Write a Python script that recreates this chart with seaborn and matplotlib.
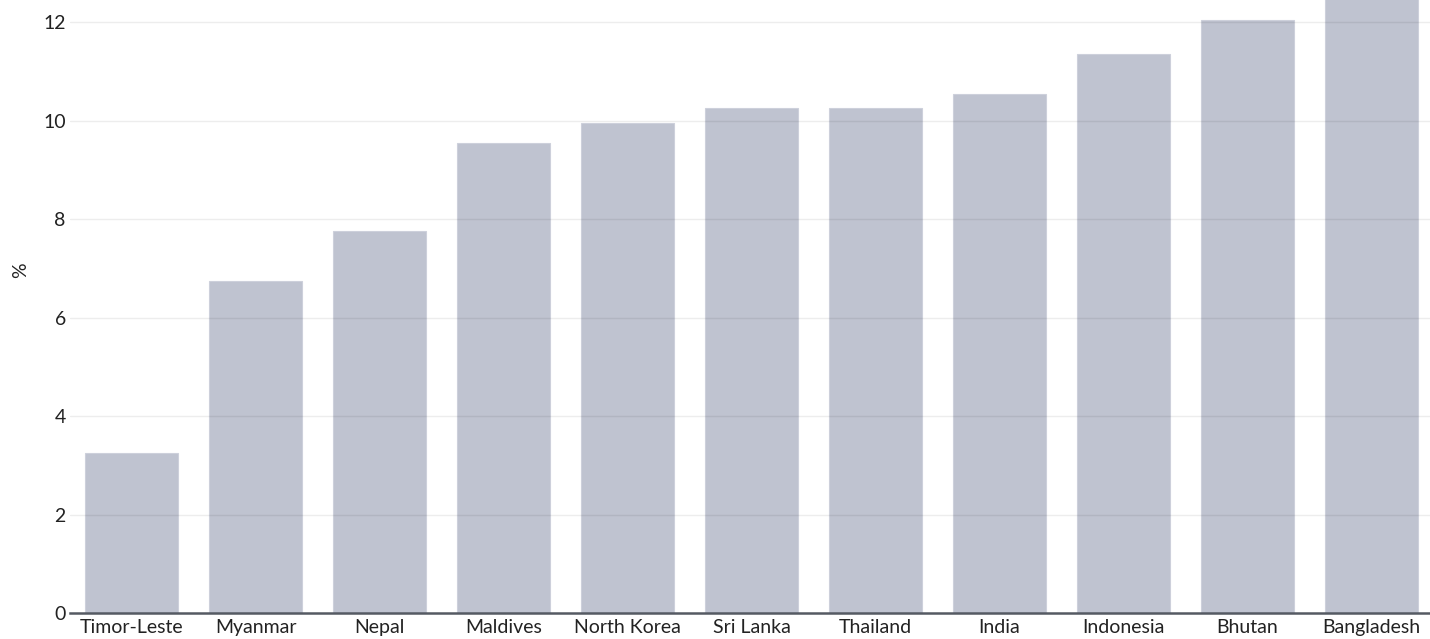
import matplotlib
matplotlib.use("Agg")
import matplotlib.pyplot as plt
import seaborn as sns
import pandas as pd

countries = ["Timor-Leste", "Myanmar", "Nepal", "Maldives", "North Korea", "Sri Lanka",
             "Thailand", "India", "Indonesia", "Bhutan", "Bangladesh"]
values = [3.25, 6.75, 7.75, 9.55, 9.95, 10.25, 10.25, 10.55, 11.35, 12.05, 12.9]
y_ticks = [0, 2, 4, 6, 8, 10, 12]

sns.set_theme(style="white")
plt.rcParams["font.family"] = ["Lato", "DejaVu Sans"]

df = pd.DataFrame({"country": countries, "value": values})

fig = plt.figure(figsize=(14.30, 6.39), dpi=100)
ax = fig.add_axes([70 / 1430, 26 / 639, 1363 / 1430, 613 / 639])

sns.barplot(data=df, x="country", y="value", color="#bfc3d0", saturation=1,
            width=0.75, edgecolor="#cdd0db", linewidth=0.8, ax=ax, zorder=1)

ax.set_ylim(0, 12.45)
ax.set_xlim(-0.5, len(countries) - 0.5)
ax.set_yticks(y_ticks)
ax.set_yticklabels([str(t) for t in y_ticks], fontsize=14, color="#222222")
ax.tick_params(axis="x", labelsize=14, labelcolor="#222222", length=0, pad=4)
ax.tick_params(axis="y", length=0, pad=3)

for t in y_ticks[1:]:
    ax.axhline(t, color="black", alpha=0.07, linewidth=1, zorder=2)

for s in ["top", "right", "left"]:
    ax.spines[s].set_visible(False)
ax.spines["bottom"].set_color("#555a63")
ax.spines["bottom"].set_linewidth(1.8)
ax.spines["bottom"].set_zorder(3)

ax.set_xlabel("")
ax.set_ylabel("%", fontsize=14, color="#222222")
ax.yaxis.set_label_coords(-0.03, 0.56)

fig.savefig("out.png", dpi=100)
